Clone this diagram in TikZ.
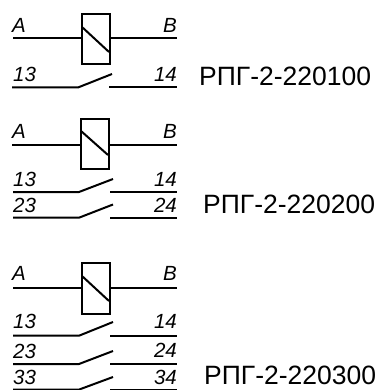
\documentclass[tikz,border=0pt]{standalone}
\usepackage{fontspec}
\setmainfont{Liberation Sans}
\tikzset{
  wire/.style={line width=2pt,line cap=butt},
  coilbox/.style={draw,line width=2pt,minimum width=28pt,minimum height=50.5pt,inner sep=0pt,outer sep=0pt},
  term/.style={font=\fontsize{20.5}{21}\selectfont\itshape,inner sep=0pt},
  model/.style={font=\fontsize{26.5}{28}\selectfont,inner sep=0pt,anchor=base west},
}
\begin{document}
\begin{tikzpicture}[x=1pt,y=-1pt]
\useasboundingbox (0,0) rectangle (377,390);
% --- first relay
\node[coilbox] (c1) at (95.7,38.9) {};
\coordinate (a1) at (13,38.5); \coordinate (b1) at (177,38.5);
\draw[wire] (a1) -- (c1.west |- a1);
\draw[wire] (c1.east |- b1) -- (b1);
\draw[wire] (82,27) coordinate (d1a) -- (109,52) coordinate (d1b);
\node[term,anchor=base west] (la1) at (12,32.7) {A};
\node[term,anchor=base east] (lb1) at (177,32.7) {B};
\coordinate (p1l) at (12,87.5); \coordinate (p1m) at (78,87.5); \coordinate (p1t) at (112,74);
\coordinate (p1r) at (109,87.5); \coordinate (p1e) at (177,87.5);
\draw[wire] (p1l) -- (p1m) -- (p1t);
\draw[wire] (p1r) -- (p1e);
\node[term,anchor=base west] (n13a) at (13,81.5) {13};
\node[term,anchor=base east] (n14a) at (177,81.5) {14};
\node[model] (m1) at (199,85.5) {РПГ-2-220100};
% --- second relay
\node[coilbox] (c2) at (94.7,144.2) {};
\coordinate (a2) at (12,145.5); \coordinate (b2) at (177,145.5);
\draw[wire] (a2) -- (c2.west |- a2);
\draw[wire] (c2.east |- b2) -- (b2);
\draw[wire] (81,131) coordinate (d2a) -- (108,155) coordinate (d2b);
\node[term,anchor=base west] (la2) at (12,139) {A};
\node[term,anchor=base east] (lb2) at (177,139) {B};
\coordinate (p2l) at (13,192); \coordinate (p2m) at (79,192); \coordinate (p2t) at (113,179);
\coordinate (p2r) at (110,192); \coordinate (p2e) at (177,192);
\draw[wire] (p2l) -- (p2m) -- (p2t);
\draw[wire] (p2r) -- (p2e);
\coordinate (q2l) at (13,217.7); \coordinate (q2m) at (79,217.7); \coordinate (q2t) at (113,204.5);
\coordinate (q2r) at (110,217.7); \coordinate (q2e) at (177,217.7);
\draw[wire] (q2l) -- (q2m) -- (q2t);
\draw[wire] (q2r) -- (q2e);
\node[term,anchor=base west] (n13b) at (13,186) {13};
\node[term,anchor=base east] (n14b) at (177,186) {14};
\node[term,anchor=base west] (n23b) at (13,212) {23};
\node[term,anchor=base east] (n24b) at (177,212) {24};
\node[model] (m2) at (203,213) {РПГ-2-220200};
% --- third relay
\node[coilbox] (c3) at (95.7,288.3) {};
\coordinate (a3) at (13,287.7); \coordinate (b3) at (177,287.7);
\draw[wire] (a3) -- (c3.west |- a3);
\draw[wire] (c3.east |- b3) -- (b3);
\draw[wire] (82,276) coordinate (d3a) -- (109,301) coordinate (d3b);
\node[term,anchor=base west] (la3) at (12,280) {A};
\node[term,anchor=base east] (lb3) at (177,280) {B};
\coordinate (p3l) at (13,335.7); \coordinate (p3m) at (79,335.7); \coordinate (p3t) at (113,322);
\coordinate (p3r) at (110,335.7); \coordinate (p3e) at (177,335.7);
\draw[wire] (p3l) -- (p3m) -- (p3t);
\draw[wire] (p3r) -- (p3e);
\coordinate (q3l) at (13,364); \coordinate (q3m) at (79,364); \coordinate (q3t) at (113,351);
\coordinate (q3r) at (110,364); \coordinate (q3e) at (177,364);
\draw[wire] (q3l) -- (q3m) -- (q3t);
\draw[wire] (q3r) -- (q3e);
\coordinate (s3l) at (13,389.6); \coordinate (s3m) at (79,389.6); \coordinate (s3t) at (113,377);
\coordinate (s3r) at (110,389.6); \coordinate (s3e) at (177,389.6);
\draw[wire] (s3l) -- (s3m) -- (s3t);
\draw[wire] (s3r) -- (s3e);
\node[term,anchor=base west] (n13c) at (13,328) {13};
\node[term,anchor=base east] (n14c) at (177,328.5) {14};
\node[term,anchor=base west] (n23c) at (13,358) {23};
\node[term,anchor=base east] (n24c) at (177,357.5) {24};
\node[term,anchor=base west] (n33c) at (13,384) {33};
\node[term,anchor=base east] (n34c) at (177,384) {34};
\node[model] (m3) at (204,384) {РПГ-2-220300};
\end{tikzpicture}
\end{document}
